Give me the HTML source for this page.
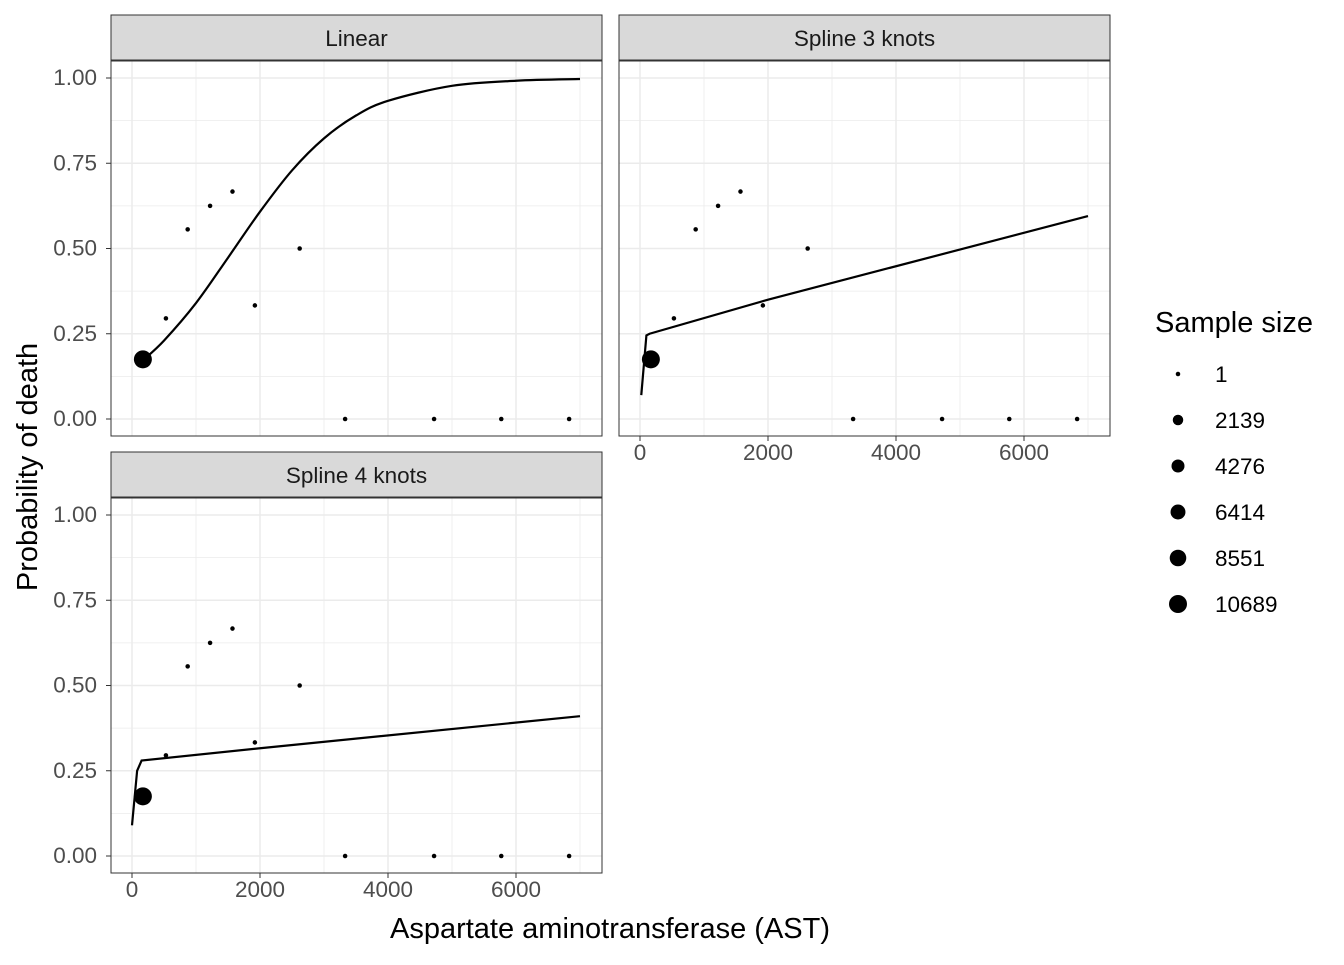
<!DOCTYPE html>
<html><head><meta charset="utf-8"><style>body{margin:0;background:#fff}svg{font-family:"Liberation Sans",sans-serif}</style></head>
<body>
<svg id="c" width="1344" height="960" xmlns="http://www.w3.org/2000/svg"></svg>
<script>
const ptX=[170,530,870,1220,1570,1920,2620,3330,4720,5770,6830];
const ptY=[0.175,0.295,0.556,0.625,0.667,0.333,0.5,0,0,0,0];
const ptN=[10689,1,1,1,1,1,1,1,1,1,1];
const linX=[170,500,1000,1500,2000,2500,3000,3500,4000,5000,6000,7000];
const linY=[0.172,0.23,0.34,0.473,0.608,0.729,0.823,0.89,0.933,0.977,0.992,0.997];
const s3X=[20,100,150,2000,7000];
const s3Y=[0.07,0.245,0.25,0.35,0.595];
const s4X=[0,80,150,2000,7000];
const s4Y=[0.09,0.25,0.28,0.316,0.41];
const xTicks=[0,2000,4000,6000];
const yTicks=[0,0.25,0.5,0.75,1];
const yLabels=["0.00","0.25","0.50","0.75","1.00"];
const legVals=[1,2139,4276,6414,8551,10689];
const panels=[
 {name:"Linear",x0:111,y0:15,lx:linX,ly:linY,xt:false,yt:true},
 {name:"Spline 3 knots",x0:619,y0:15,lx:s3X,ly:s3Y,xt:true,yt:false},
 {name:"Spline 4 knots",x0:111,y0:452,lx:s4X,ly:s4Y,xt:true,yt:true}];
const svg=document.getElementById('c');
const NS="http://www.w3.org/2000/svg";
function el(t,a,p){const e=document.createElementNS(NS,t);for(const k in a)e.setAttribute(k,a[k]);(p||svg).appendChild(e);return e;}
function rad(n){return 2.2+6.8*Math.sqrt(n/10689);}
function smooth(P){let d='M'+P[0][0]+','+P[0][1];
 for(let i=0;i<P.length-1;i++){const p0=P[Math.max(0,i-1)],p1=P[i],p2=P[i+1],p3=P[Math.min(P.length-1,i+2)];
  d+=' C'+(p1[0]+(p2[0]-p0[0])/6)+','+(p1[1]+(p2[1]-p0[1])/6)+' '+(p2[0]-(p3[0]-p1[0])/6)+','+(p2[1]-(p3[1]-p1[1])/6)+' '+p2[0]+','+p2[1];}
 return d;}
panels.forEach((p,i)=>{
 const W=491,top=p.y0+46,H=375;
 const sx=v=>p.x0+21+v*0.064;
 const sy=v=>top+358-v*341;
 const g=el('g',{});
 
 
 el('rect',{x:p.x0,y:top,width:W,height:H,fill:'#fff'},g);
 for(let v=1000;v<=7000;v+=2000)el('line',{x1:sx(v),x2:sx(v),y1:top,y2:top+H,stroke:'#ebebeb','stroke-width':0.8},g);
 for(let v=0.125;v<1.1;v+=0.25)el('line',{x1:p.x0,x2:p.x0+W,y1:sy(v),y2:sy(v),stroke:'#ebebeb','stroke-width':0.8},g);
 xTicks.forEach(v=>el('line',{x1:sx(v),x2:sx(v),y1:top,y2:top+H,stroke:'#ebebeb','stroke-width':1.5},g));
 yTicks.forEach((v,k)=>{el('line',{x1:p.x0,x2:p.x0+W,y1:sy(v),y2:sy(v),stroke:'#ebebeb','stroke-width':1.5},g);
  if(p.yt){el('line',{x1:p.x0-5,x2:p.x0,y1:sy(v),y2:sy(v),stroke:'#333','stroke-width':1},g);
  const t=el('text',{x:p.x0-14,y:sy(v)+7,'text-anchor':'end','font-size':22.5,fill:'#4d4d4d'},g);t.textContent=yLabels[k];
  }});
 if(p.xt)xTicks.forEach(v=>{el('line',{x1:sx(v),x2:sx(v),y1:top+H,y2:top+H+5,stroke:'#333'},g);
  const t=el('text',{x:sx(v),y:top+H+24,'text-anchor':'middle','font-size':22.5,fill:'#4d4d4d'},g);t.textContent=v;
  });
 ptX.forEach((x,k)=>{const c=el('circle',{cx:sx(x),cy:sy(ptY[k]),r:rad(ptN[k]),fill:'#000'},g);
  });
 const P=p.lx.map((x,k)=>[sx(x),sy(p.ly[k])]);
 const pl=i==0?el('path',{d:smooth(P),fill:'none',stroke:'#000','stroke-width':2.2},g):
  el('polyline',{points:P.map(q=>q.join(',')).join(' '),fill:'none',stroke:'#000','stroke-width':2.2},g);
 
 el('rect',{x:p.x0,y:top,width:W,height:H,fill:'none',stroke:'#333','stroke-width':1},g);
 const st=el('rect',{x:p.x0,y:p.y0,width:W,height:45,fill:'#d9d9d9',stroke:'#333','stroke-width':1},g);
 
 const tt=el('text',{x:p.x0+W/2,y:p.y0+31,'text-anchor':'middle','font-size':22.5,fill:'#1a1a1a'},g);tt.textContent=p.name;
 
});
let t=el('text',{x:610,y:938,'text-anchor':'middle','font-size':29,fill:'#000'});t.textContent="Aspartate aminotransferase (AST)";

t=el('text',{x:37,y:467,'text-anchor':'middle','font-size':29,fill:'#000',transform:'rotate(-90 37 467)'});t.textContent="Probability of death";

t=el('text',{x:1155,y:332,'font-size':29,fill:'#000'});t.textContent="Sample size";

legVals.forEach((v,k)=>{const y=374+46*k;
 const c=el('circle',{cx:1178,cy:y,r:rad(v),fill:'#000'});
 
 const l=el('text',{x:1215,y:y+8,'font-size':22.5,fill:'#000'});l.textContent=v;
 });
</script>
</body></html>
